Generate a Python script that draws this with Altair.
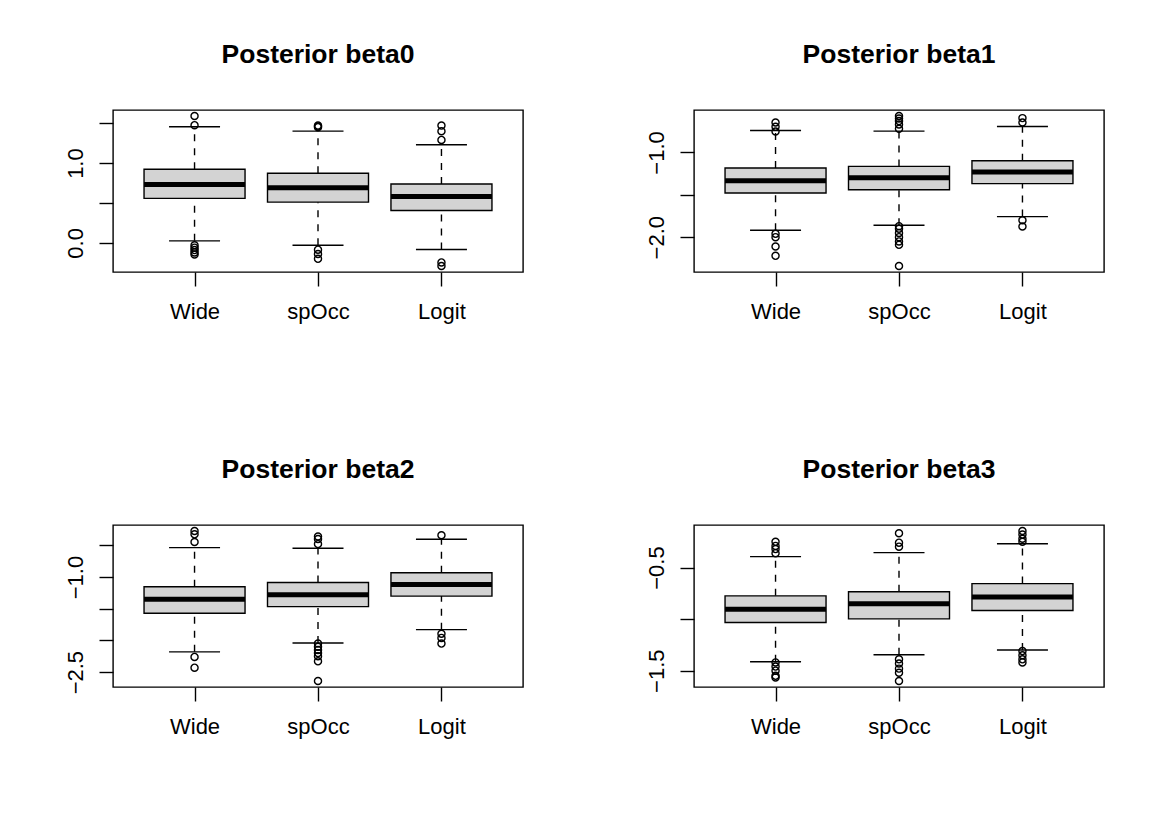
import altair as alt
import pandas as pd

methods = ["Wide", "spOcc", "Logit"]
positions = [1, 2, 3]
panels = ["beta0", "beta1", "beta2", "beta3"]

lower_whisker = {
    "beta0": [0.025, -0.03, -0.084],
    "beta1": [-1.918, -1.86, -1.757],
    "beta2": [-2.18, -2.04, -1.83],
    "beta3": [-1.413, -1.345, -1.30],
}
q1 = {
    "beta0": [0.557, 0.51, 0.406],
    "beta1": [-1.478, -1.44, -1.368],
    "beta2": [-1.57, -1.466, -1.30],
    "beta3": [-1.032, -0.997, -0.916],
}
median = {
    "beta0": [0.73, 0.69, 0.582],
    "beta1": [-1.333, -1.30, -1.23],
    "beta2": [-1.35, -1.278, -1.116],
    "beta3": [-0.903, -0.851, -0.784],
}
q3 = {
    "beta0": [0.922, 0.872, 0.737],
    "beta1": [-1.184, -1.165, -1.098],
    "beta2": [-1.152, -1.085, -0.932],
    "beta3": [-0.774, -0.735, -0.655],
}
upper_whisker = {
    "beta0": [1.455, 1.40, 1.23],
    "beta1": [-0.741, -0.748, -0.694],
    "beta2": [-0.535, -0.545, -0.403],
    "beta3": [-0.394, -0.355, -0.268],
}
outliers = {
    "beta0": [[1.59, 1.475, -0.03, -0.06, -0.09, -0.12, -0.145],
              [1.45, 1.46, 1.47, -0.085, -0.14, -0.2],
              [1.47, 1.40, 1.29, -0.245, -0.29]],
    "beta1": [[-0.647, -0.698, -0.753, -1.96, -2.0, -2.11, -2.22],
              [-0.57, -0.6, -0.63, -0.67, -0.72, -1.87, -1.9, -1.95, -2.0, -2.05, -2.09, -2.34],
              [-0.595, -0.647, -1.80, -1.874]],
    "beta2": [[-0.273, -0.325, -0.446, -2.26, -2.43],
              [-0.36, -0.40, -0.48, -2.05, -2.1, -2.15, -2.2, -2.25, -2.33, -2.64],
              [-0.34, -1.895, -1.96, -2.05]],
    "beta3": [[-0.25, -0.29, -0.32, -0.36, -1.42, -1.46, -1.5, -1.55, -1.565],
              [-0.167, -0.258, -0.297, -1.39, -1.43, -1.48, -1.52, -1.60],
              [-0.145, -0.18, -0.22, -0.25, -1.31, -1.35, -1.39, -1.42]],
}
y_ticks = {
    "beta0": [0, 0.5, 1.0, 1.5],
    "beta1": [-2.0, -1.5, -1.0],
    "beta2": [-2.5, -2.0, -1.5, -1.0, -0.5],
    "beta3": [-1.5, -1.0, -0.5],
}
y_labeled = {
    "beta0": [0, 1.0],
    "beta1": [-2.0, -1.0],
    "beta2": [-2.5, -1.0],
    "beta3": [-1.5, -0.5],
}

FONT = "Liberation Sans"
LW = 1.4


def make_panel(p):
    box_df = pd.DataFrame({
        "pos": positions, "method": methods,
        "lo": lower_whisker[p], "q1": q1[p], "med": median[p],
        "q3": q3[p], "hi": upper_whisker[p],
    })
    rows = [(positions[i], v) for i in range(3) for v in outliers[p][i]]
    out_df = pd.DataFrame(rows, columns=["pos", "value"])

    allv = lower_whisker[p] + upper_whisker[p] + [v for lst in outliers[p] for v in lst]
    lo, hi = min(allv), max(allv)
    ext = 0.04 * (hi - lo)
    yscale = alt.Scale(domain=[lo - ext, hi + ext], nice=False, zero=False)
    xscale = alt.Scale(domain=[0.38, 3.62], nice=False, zero=False)

    names = "[" + ",".join("'%s'" % m for m in methods) + "]"
    xaxis = alt.Axis(values=positions, labelExpr=names + "[datum.value - 1]",
                     title=None, labelPadding=15, labelAngle=0)
    lab = "[" + ",".join(str(v) for v in y_labeled[p]) + "]"
    yaxis = alt.Axis(values=y_ticks[p], title=None,
                     labelExpr="indexof(" + lab + ", datum.value) >= 0 ? format(datum.value, '.1f') : ''",
                     labelAngle=270, labelAlign="center", labelBaseline="alphabetic",
                     labelPadding=17)

    x = alt.X("pos:Q", scale=xscale, axis=xaxis)
    base = alt.Chart(box_df).encode(x=x)

    wh_up = base.mark_rule(color="black", strokeWidth=LW, strokeDash=[7, 7]).encode(
        y=alt.Y("q3:Q", scale=yscale, axis=yaxis), y2="hi:Q")
    wh_dn = base.mark_rule(color="black", strokeWidth=LW, strokeDash=[7, 7]).encode(
        y=alt.Y("lo:Q", scale=yscale, axis=yaxis), y2="q1:Q")
    cap_up = base.mark_tick(orient="horizontal", size=51, thickness=LW, color="black", opacity=1).encode(
        y=alt.Y("hi:Q", scale=yscale, axis=yaxis))
    cap_dn = base.mark_tick(orient="horizontal", size=51, thickness=LW, color="black", opacity=1).encode(
        y=alt.Y("lo:Q", scale=yscale, axis=yaxis))
    box = base.mark_bar(size=101, fill="#D3D3D3", stroke="black", strokeWidth=LW).encode(
        y=alt.Y("q1:Q", scale=yscale, axis=yaxis), y2="q3:Q")
    med = base.mark_tick(orient="horizontal", size=101, thickness=5, color="black", opacity=1).encode(
        y=alt.Y("med:Q", scale=yscale, axis=yaxis))
    pts = alt.Chart(out_df).mark_point(shape="circle", filled=False, size=50, strokeWidth=LW,
                                       color="black", opacity=1).encode(
        x=x, y=alt.Y("value:Q", scale=yscale, axis=yaxis))

    return alt.layer(wh_up, wh_dn, cap_up, cap_dn, box, med, pts).properties(
        width=410, height=162,
        title=alt.TitleParams("Posterior " + p, fontSize=26.5, fontWeight="bold", font=FONT,
                              color="black", anchor="middle", frame="group",
                              baseline="alphabetic", offset=20),
    )


chart = alt.concat(*[make_panel(p) for p in panels], columns=2,
                   spacing=alt.RowColnumber(row=253, column=171), bounds="flush").properties(
    padding={"left": 55, "top": 33, "right": 20, "bottom": 20},
    background="white",
).configure_view(stroke="black", strokeWidth=LW).configure_axis(
    domain=False, grid=False, tickColor="black", tickSize=14, tickWidth=LW,
    labelFont=FONT, labelFontSize=22, labelColor="black",
)

chart.save("out.html", embed_options={"renderer": "svg", "actions": False})
